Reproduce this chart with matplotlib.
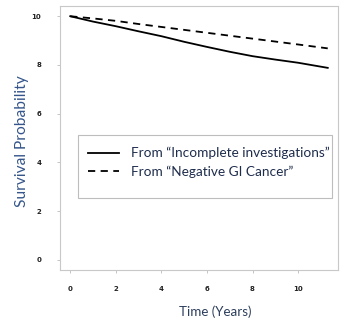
import matplotlib
matplotlib.use("Agg")
import matplotlib.pyplot as plt
from matplotlib.lines import Line2D
from matplotlib.patches import Rectangle

# Survival curves (time in years, survival probability)
time_years = [0, 1, 2, 3, 4, 5, 6, 7, 8, 9, 10, 11.3]
surv_incomplete = [1.000, 0.978, 0.959, 0.938, 0.918, 0.895, 0.874, 0.854, 0.836, 0.822, 0.809, 0.788]
surv_negative = [1.000, 0.991, 0.981, 0.968, 0.956, 0.944, 0.932, 0.920, 0.908, 0.896, 0.884, 0.868]

x_ticks = [0, 2, 4, 6, 8, 10]
x_tick_labels = ["0", "2", "4", "6", "8", "10"]
y_ticks = [0.0, 0.2, 0.4, 0.6, 0.8, 1.0]
y_tick_labels = ["0", "2", "4", "6", "8", "10"]
legend_labels = ["From \u201cIncomplete investigations\u201d", "From \u201cNegative GI Cancer\u201d"]

W, H = 341, 323
L, R, T, B = 60, 338, 6, 270
fig = plt.figure(figsize=(W / 100, H / 100), dpi=100)
ax = fig.add_axes([L / W, 1 - B / H, (R - L) / W, (B - T) / H])
aw, ah = R - L, B - T


def ax_x(px):
    return (px - L) / aw


def ax_y(py):
    return (B - py) / ah


ax.plot(time_years, surv_incomplete, color="black", lw=1.3, ls="-")
ax.plot(time_years, surv_negative, color="black", lw=1.3, ls=(0, (4, 3)))

ax.set_xlim(-0.45, 11.75)
ax.set_ylim(-0.042, 1.042)
ax.set_xticks(x_ticks)
ax.set_xticklabels(x_tick_labels)
ax.set_yticks(y_ticks)
ax.set_yticklabels(y_tick_labels)
ax.tick_params(axis="both", length=2.5, width=0.6, color="#bbbbbb",
               labelsize=5, labelcolor="#222222")
ax.tick_params(axis="x", pad=9)
ax.tick_params(axis="y", pad=11)
for t in ax.get_xticklabels() + ax.get_yticklabels():
    t.set_fontweight("bold")
for sp in ax.spines.values():
    sp.set_color("#c8c8c8")
    sp.set_linewidth(0.8)

ax.set_ylabel("Survival Probability", fontsize=11.2, color="#34558b", family="Lato")
ax.yaxis.set_label_coords(ax_x(29), ax_y(141))
ax.set_xlabel("Time (Years)", fontsize=9.6, color="#2c3e5c", family="Lato")
ax.xaxis.set_label_coords(ax_x(215), ax_y(305))

# legend frame
ax.add_patch(Rectangle((ax_x(78), ax_y(198)), ax_x(332) - ax_x(78), ax_y(135) - ax_y(198),
                       transform=ax.transAxes, facecolor="white", edgecolor="#bdbdbd",
                       linewidth=0.8, zorder=3))

handles = [Line2D([], [], color="black", lw=1.3, ls="-"),
           Line2D([], [], color="black", lw=1.3, ls=(0, (4, 3)))]
leg = ax.legend(handles, legend_labels, loc="upper left",
                bbox_to_anchor=(ax_x(88), ax_y(147)),
                borderaxespad=0, borderpad=0, frameon=False,
                prop={"family": "Lato", "size": 9.8}, handlelength=2.3,
                labelspacing=0.45, handletextpad=0.85)
leg.set_zorder(4)
for t in leg.get_texts():
    t.set_color("#1f2d4d")

fig.savefig("out.png", dpi=100)
